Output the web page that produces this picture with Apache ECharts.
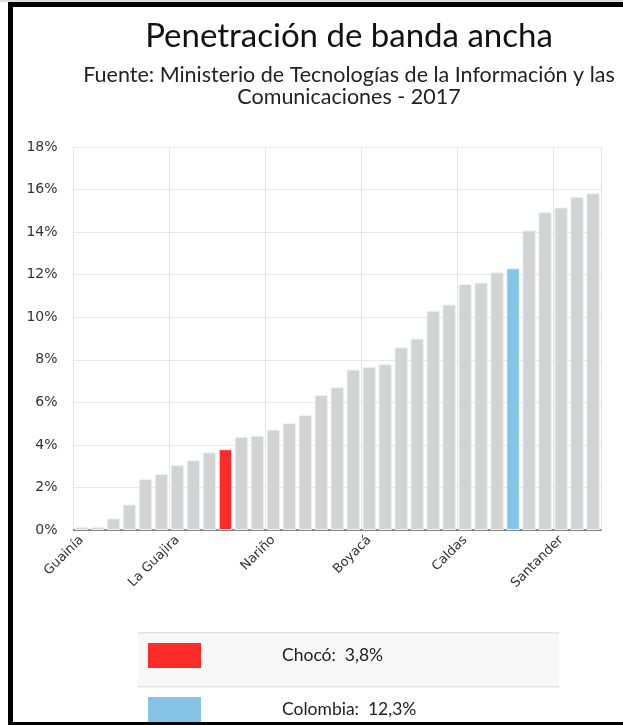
<!DOCTYPE html>
<html>
<head>
<meta charset="utf-8">
<script src="https://cdn.jsdelivr.net/npm/echarts@6/dist/echarts.min.js"></script>
<style>
  html, body { margin: 0; padding: 0; overflow: hidden; background: #fff; }
  #chart { position: absolute; left: 0; top: 0; width: 698px; height: 725px; }
  #frame {
    position: absolute; left: 8px; top: 2px; width: 700px; height: 715px;
    border-left: 5px solid #000; border-top: 5px solid #000; border-bottom: 5px solid #000;
    pointer-events: none;
  }
  #topline { position: absolute; left: 0; top: 0; width: 623px; height: 2px; background: #ddd; }
</style>
</head>
<body>
<div id="chart"></div>
<div id="topline"></div>
<div id="frame"></div>
<script>
// Departamentos ordenados por penetración (solo se rotulan cada 6)
const departamentos = [
  "Guainía", "Vaupés", "Vichada", "Guaviare", "Amazonas", "Putumayo",
  "La Guajira", "Arauca", "Caquetá", "Chocó", "Sucre", "Córdoba",
  "Nariño", "Magdalena", "Cesar", "Cauca", "Bolívar", "Huila",
  "Boyacá", "Casanare", "Norte de Santander", "Tolima", "Meta", "Atlántico",
  "Caldas", "Cundinamarca", "San Andrés", "Colombia", "Valle del Cauca", "Quindío",
  "Santander", "Antioquia", "Bogotá"
];
// Penetración de banda ancha (%)
const penetracion = [
  0.15, 0.15, 0.55, 1.2, 2.4, 2.63,
  3.05, 3.28, 3.65, 3.8, 4.38, 4.43,
  4.72, 5.02, 5.4, 6.34, 6.71, 7.54,
  7.67, 7.79, 8.58, 9.0, 10.31, 10.6,
  11.56, 11.63, 12.11, 12.3, 14.08, 14.94,
  15.16, 15.66, 15.83
];
// Barras destacadas y su color
const destacados = ["Chocó", "Colombia"];
const coloresDestacados = ["#ff2a2a", "#85c4e4"];
const colorBase = "#d3d3d3";

const FONT_TITLE = "Lato";

const chart = echarts.init(document.getElementById("chart"));

const barData = penetracion.map((v, i) => {
  const k = destacados.indexOf(departamentos[i]);
  return {
    value: v,
    itemStyle: { color: k === -1 ? colorBase : coloresDestacados[k] }
  };
});

const fmt = v => v.toFixed(1).replace(".", ",") + "%";

// Legend table at the bottom
const legendRows = destacados.map((name, k) => {
  const y0 = 632 + k * 54;
  const v = penetracion[departamentos.indexOf(name)];
  return [
    { type: "rect", shape: { x: 138, y: y0, width: 421, height: 54 },
      style: { fill: k === 0 ? "#f8f8f8" : "#fff" }, silent: true },
    { type: "rect", shape: { x: 138, y: y0, width: 421, height: 1.5 },
      style: { fill: "#e3e3e3" }, silent: true },
    { type: "rect", shape: { x: 148, y: y0 + 11, width: 53, height: 25 },
      style: { fill: coloresDestacados[k] }, silent: true },
    { type: "text", x: 282, y: y0 + 23,
      style: { text: name + ":  " + fmt(v), fill: "#222", font: "17.5px " + FONT_TITLE,
               textVerticalAlign: "middle" }, silent: true }
  ];
}).flat();

chart.setOption({
  animation: false,
  title: {
    left: "center",
    top: 15,
    text: "Penetración de banda ancha",
    subtext: "Fuente: Ministerio de Tecnologías de la Información y las\nComunicaciones - 2017",
    itemGap: 11,
    textStyle: { fontFamily: FONT_TITLE, fontSize: 33, fontWeight: "normal", color: "#111" },
    subtextStyle: { fontFamily: FONT_TITLE, fontSize: 21.5, color: "#222", lineHeight: 22, align: "center" }
  },
  grid: { left: 73.5, right: 97, top: 147, bottom: 195, containLabel: false },
  xAxis: {
    type: "category",
    data: departamentos,
    axisLine: { lineStyle: { color: "#666", width: 1.5 } },
    axisTick: { interval: 5, alignWithLabel: true, length: 5, lineStyle: { color: "#666" } },
    axisLabel: { interval: 5, rotate: 45, fontFamily: "DejaVu Sans", fontSize: 13, color: "#333", margin: 8 },
    splitLine: { show: true, interval: 5, lineStyle: { color: "#e4e4e4" } }
  },
  yAxis: {
    type: "value",
    min: 0,
    max: 18,
    interval: 2,
    axisLabel: { formatter: "{value}%", fontFamily: "DejaVu Sans", fontSize: 14, color: "#333", margin: 16 },
    splitLine: { lineStyle: { color: "#e8e8e8" } }
  },
  series: [{
    type: "bar",
    data: barData,
    barCategoryGap: "16%",
    itemStyle: { borderColor: "#eaf3f8", borderWidth: 1 }
  }],
  graphic: legendRows
});
</script>
</body>
</html>
